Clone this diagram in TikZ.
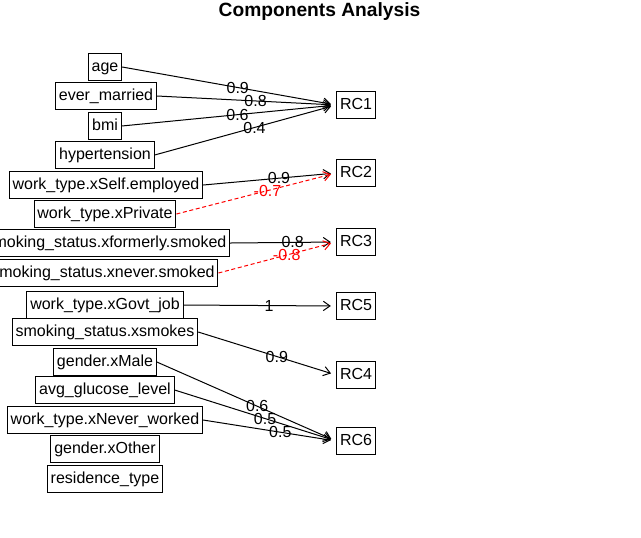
\documentclass[tikz,border=0pt]{standalone}
\usepackage{fontspec}
\setmainfont{Liberation Sans}
\usetikzlibrary{arrows.meta}

\tikzset{every picture/.style={line width=0.75pt}}

\begin{document}
\begin{tikzpicture}[x=0.75pt,y=0.75pt,yscale=-1,xscale=1,
  varbox/.style={draw, font=\fontsize{12}{14}\selectfont, inner xsep=2.5pt, inner ysep=4.2pt, text height=9pt, text depth=2.5pt},
  load/.style={-{Straight Barb[length=5pt,width=7pt]}, shorten >=4pt},
  negload/.style={load, red, dash pattern=on 3pt off 2pt},
  loadlbl/.style={font=\fontsize{12}{14}\selectfont, inner sep=0pt}]
%set diagram to 641 x 537
\clip (0,0) rectangle (641,537);

% Title
\draw (319.5,12) node [font=\fontsize{14.4}{16}\selectfont\bfseries] (title) {Components Analysis};

% Text Node
\draw (105,67) node [varbox] (age) {age};
% Text Node
\draw (106,96) node [varbox] (married) {ever\_married};
% Text Node
\draw (105,126) node [varbox] (bmi) {bmi};
% Text Node
\draw (105,155) node [varbox] (hyper) {hypertension};
% Text Node
\draw (106,185) node [varbox] (selfemp) {work\_type.xSelf.employed};
% Text Node
\draw (105,214) node [varbox] (private) {work\_type.xPrivate};
% Text Node
\draw (106,243) node [varbox] (formerly) {smoking\_status.xformerly.smoked};
% Text Node
\draw (103,273) node [varbox] (never) {smoking\_status.xnever.smoked};
% Text Node
\draw (105,305) node [varbox] (govt) {work\_type.xGovt\_job};
% Text Node
\draw (105,332) node [varbox] (smokes) {smoking\_status.xsmokes};
% Text Node
\draw (105,362) node [varbox] (male) {gender.xMale};
% Text Node
\draw (105,390) node [varbox] (glucose) {avg\_glucose\_level};
% Text Node
\draw (105,420) node [varbox] (neverwork) {work\_type.xNever\_worked};
% Text Node
\draw (105,449) node [varbox] (other) {gender.xOther};
% Text Node
\draw (105,479) node [varbox] (residence) {residence\_type};

% Components
\draw (356,105) node [varbox] (rc1) {RC1};
\draw (356,173) node [varbox] (rc2) {RC2};
\draw (356,242) node [varbox] (rc3) {RC3};
\draw (356,306) node [varbox] (rc5) {RC5};
\draw (356,375) node [varbox] (rc4) {RC4};
\draw (356,441) node [varbox] (rc6) {RC6};

%Straight Lines
\draw [load] (age.east) -- (rc1.west) node [loadlbl, pos=0.54] {0.9};
\draw [load] (married.east) -- (rc1.west) node [loadlbl, pos=0.55] {0.8};
\draw [load] (bmi.east) -- (rc1.west) node [loadlbl, pos=0.54] {0.6};
\draw [load] (hyper.east) -- (rc1.west) node [loadlbl, pos=0.55] {0.4};
%Straight Lines
\draw [load] (selfemp.east) -- (rc2.west) node [loadlbl, pos=0.57] {0.9};
\draw [negload] (private.east) -- (rc2.west) node [loadlbl, pos=0.57] {-0.7};
%Straight Lines
\draw [load] (formerly.east) -- (rc3.west) node [loadlbl, pos=0.59] {0.8};
\draw [negload] (never.east) -- (rc3.west) node [loadlbl, pos=0.58] {-0.8};
%Straight Lines
\draw [load] (govt.east) -- (rc5.west) node [loadlbl, pos=0.56] {1};
\draw [load] (smokes.east) -- (rc4.west) node [loadlbl, pos=0.57] {0.9};
%Straight Lines
\draw [load] (male.east) -- (rc6.west) node [loadlbl, pos=0.56] {0.6};
\draw [load] (glucose.east) -- (rc6.west) node [loadlbl, pos=0.56] {0.5};
\draw [load] (neverwork.east) -- (rc6.west) node [loadlbl, pos=0.58] {0.5};

\end{tikzpicture}
\end{document}
